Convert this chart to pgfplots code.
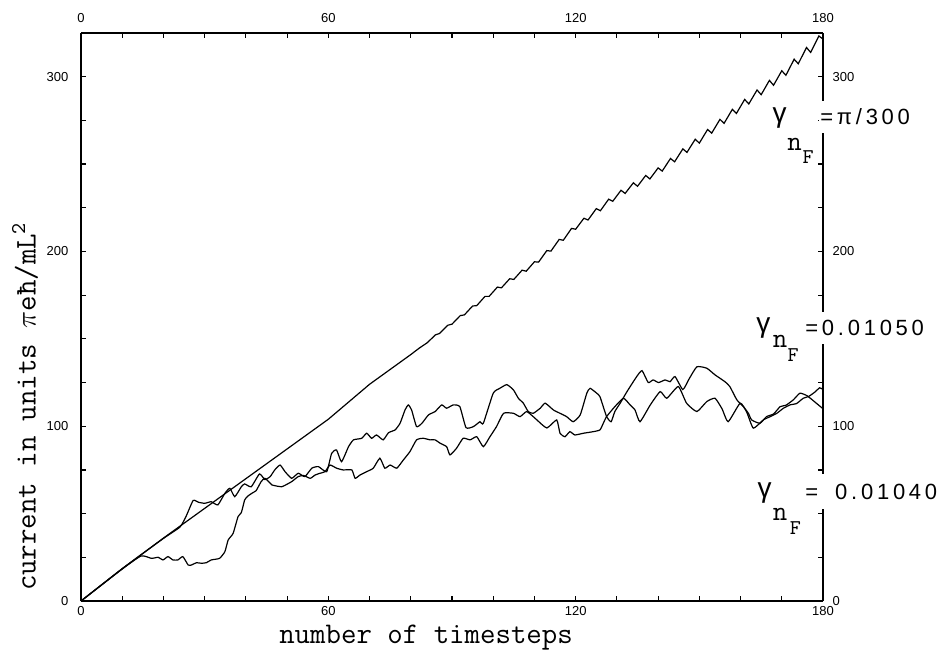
\documentclass[border=0pt]{standalone}
\usepackage{pgfplots}
\pgfplotsset{compat=1.18}
\usepackage{fontspec}
\setmainfont{Liberation Sans}
\newfontfamily\numfont{Liberation Sans}[LetterSpace=17]
\newfontfamily\tickfont{Liberation Sans}

\pgfplotstableread{
t v
0 0
10 18.5
20 36
30 53
40 70
50 87
60 104
70 124
80 141
82 144.6
84 147.8
86 152.3
87 153.1
89 157.8
90 158.4
92 163.3
93 163.7
95 168.8
96 169.0
98 174.3
99 174.3
101 179.6
102 179.2
104 184.4
105 184.0
107 189.3
108 188.7
110 194.1
111 193.9
113 200.5
114 200.2
116 206.9
117 206.4
119 213.2
120 212.7
122 219.0
123 218.0
125 224.5
126 223.3
128 229.9
129 228.7
131 235.0
132 233.2
134 239.3
135 237.3
137 243.5
138 241.5
140 247.8
141 246.0
143 253.2
144 251.3
146 258.7
147 256.7
149 264.2
150 262.0
152 269.8
153 267.7
155 275.6
156 273.3
158 281.3
159 279.0
161 287.0
162 284.4
164 292.4
165 289.7
167 297.9
168 295.1
170 303.4
171 300.8
173 310.0
174 307.4
176 316.7
177 313.9
179 323.3
180 321.5
}\curveS

\pgfplotstableread{
t v
0 0
10 18.5
20 35.8
24 42.3
25.5 48.5
27.2 57.5
28.5 56.5
30 55.9
31.6 56.8
33.2 55.0
34.9 61.6
36.1 64.5
37.3 59.7
38.9 65.4
39.7 67.0
41.3 65.4
43.3 72.7
44.6 69.5
45.9 71.2
47 75
48.3 77.8
49.5 74.0
51.1 70.2
52.7 73.1
54.3 71.2
56.0 76.0
57.6 76.9
59.6 74.0
60.8 84.5
62.0 86.4
63.2 79.7
64.9 88.3
66.1 92.2
68.1 93.1
69.3 96.0
70.5 93.1
71.7 95.0
73.3 92.2
74.6 96.3
76.2 97.9
77.4 101.7
78.6 109.3
79.4 112.2
80.2 109.3
81.4 99.8
82.7 101.7
84.3 106.5
85.9 108.4
87.5 112.2
88.7 110.3
90.3 112.2
91.9 111.2
93.4 99.2
95.2 99.8
96.8 102.6
97.6 101.7
100.0 118.9
101.6 121.7
103.3 123.8
104.9 120.8
106.1 116.0
107.3 113.2
108.5 108.4
109.7 107.4
111.4 110.3
112.6 113.2
114.6 109.3
116.2 107.4
117.8 105.5
119.4 102.6
121.1 106.5
122.7 118.9
123.5 121.7
125.1 118.9
125.9 116.9
127.5 105.5
128.6 102.6
129.5 108.4
130.8 113.2
132.5 120.0
134.8 128.4
136.1 131.8
137.6 125.0
138.8 126.5
140.1 125.0
141.7 126.5
142.9 125.5
144.1 128.4
146.0 121.0
147.5 127.0
149.4 134.0
151.8 133.2
153.8 129.4
156.2 125.5
157.4 122.7
159.1 115.1
160.7 111.2
161.9 107.4
162.7 103.6
164.7 101.7
166.3 105.5
168.0 107.0
169.6 111.2
171.0 112.0
172.8 115.1
174.4 118.9
176.1 117.5
177.7 114.5
180.0 110.0
}\curveU

\pgfplotstableread{
t v
0 0
10 18.3
14.6 25.8
17.1 24.4
18.7 25.0
19.9 23.5
21.1 25.4
22.3 23.5
23.5 23.5
24.7 25.4
26.0 20.6
26.8 20.6
28.0 21.9
29.2 21.6
30.4 21.9
31.6 23.5
33.6 24.4
34.9 28.2
35.7 34.9
36.9 38.7
38.1 48.3
38.9 50.6
39.7 57.8
40.5 60.1
41.7 62.0
42.5 63.2
43.7 68.3
44.6 70.2
45.9 67.4
46.3 66.4
48.7 65.4
51.1 68.3
52.7 71.2
54.0 71.8
55.6 70.2
56.8 72.1
58.0 73.1
59.2 74.0
60.4 77.8
62.0 76.0
63.6 75.0
65.7 75.0
66.5 70.2
67.7 72.1
69.3 74.0
70.9 76.0
72.5 81.7
73.7 76.0
75.0 77.8
76.6 76.0
78.2 80.7
79.8 85.5
81.4 92.2
83.0 93.1
84.7 92.2
85.9 92.2
87.1 90.3
88.7 88.3
89.5 83.6
91.1 87.4
92.7 93.1
94.4 92.2
96.0 94.0
97.6 88.3
99.2 94.0
100.8 99.8
102.5 107.4
104.9 107.4
106.5 105.5
108.1 108.4
109.7 105.5
110.6 103.6
113.0 99.0
115.4 103.6
116.2 96.0
117.4 94.0
118.6 96.9
119.8 95.0
121.9 96.0
124.3 96.9
125.9 97.9
126.7 101.7
127.5 105.5
129.5 111.2
131.6 116.0
133.2 112.2
134.4 109.3
135.6 102.6
138.1 112.2
140.5 119.8
142.1 116.0
144.9 122.7
146.9 113.2
149.4 108.4
151.8 114.1
153.8 116.0
155.5 110.0
157.0 102.6
159.9 113.2
161.5 108.0
163.1 98.9
165.5 103.6
167.2 105.5
168.8 107.4
170.4 110.3
172.0 112.2
173.6 113.0
175.2 116.0
176.5 117.0
178.0 119.5
179.2 122.0
180.0 121.0
}\curveL

\pgfplotsset{
  common/.style={
    at={(40.5pt,24.5pt)}, anchor=south west,
    scale only axis, width=371pt, height=284pt,
    xmin=0, xmax=180, ymin=0, ymax=325,
    xtick={0,60,120,180}, ytick={0,100,200,300},
    minor xtick={10,20,...,170}, minor ytick={25,50,...,325},
    tick align=inside, major tick length=2.6pt, minor tick length=2.6pt,
    tick style={line width=0.6pt, black},
    axis line style={line width=0.8pt, black},
    /pgf/number format/assume math mode=true,
    tick label style={font=\tickfont\fontsize{6.5}{7}\selectfont},
    clip=false,
  }
}

\begin{document}
\begin{tikzpicture}
\useasboundingbox (0,0) rectangle (474.5pt,325pt);
\begin{axis}[common,
  axis x line*=bottom, axis y line*=left,
  xticklabel style={yshift=-1.7pt, inner ysep=1pt},
  yticklabel style={xshift=-2.8pt},
]
\addplot[black, line width=0.6pt] table[x=t,y=v] {\curveS};
\addplot[black, line width=0.6pt, smooth, tension=0.3] table[x=t,y=v] {\curveU};
\addplot[black, line width=0.6pt, smooth, tension=0.3] table[x=t,y=v] {\curveL};
\node[anchor=base, inner sep=0pt, font=\ttfamily\fontsize{15}{17}\selectfont] at (rel axis cs:0.465,-0.0748) {number of timesteps};
\node[rotate=90, anchor=base, inner sep=0pt, font=\ttfamily\fontsize{15}{17}\selectfont] at (rel axis cs:-0.0613,0.3424) {current in units $\pi$eħ/mL\textsuperscript{2}};
\end{axis}
\begin{axis}[common,
  axis x line*=top, axis y line*=right,
  xticklabel style={yshift=1.8pt},
  yticklabel style={xshift=1.3pt},
]
% annotation 1
\node[font=\tickfont\fontsize{14}{15}\selectfont, inner sep=0pt] at (rel axis cs:0.9414,0.8512) {γ};
\node[font=\ttfamily\fontsize{14}{15}\selectfont, inner sep=0pt] at (rel axis cs:0.9616,0.8046) {n};
\node[font=\ttfamily\fontsize{10.5}{12}\selectfont, inner sep=0pt] at (rel axis cs:0.9798,0.7817) {F};
\node[anchor=west, fill=white, inner xsep=0.5pt, inner ysep=4pt, font=\numfont\fontsize{11}{12}\selectfont] at (rel axis cs:0.9946,0.8521) {=π/300};
% annotation 2
\node[font=\tickfont\fontsize{14}{15}\selectfont, inner sep=0pt] at (rel axis cs:0.9198,0.4815) {γ};
\node[font=\ttfamily\fontsize{14}{15}\selectfont, inner sep=0pt] at (rel axis cs:0.9420,0.4577) {n};
\node[font=\ttfamily\fontsize{10.5}{12}\selectfont, inner sep=0pt] at (rel axis cs:0.9596,0.4331) {F};
\node[anchor=west, fill=white, inner xsep=0.5pt, inner ysep=4pt, font=\numfont\fontsize{11}{12}\selectfont] at (rel axis cs:0.9744,0.4806) {=0.01050};
% annotation 3
\node[font=\tickfont\fontsize{14}{15}\selectfont, inner sep=0pt] at (rel axis cs:0.9212,0.1910) {γ};
\node[font=\ttfamily\fontsize{14}{15}\selectfont, inner sep=0pt] at (rel axis cs:0.9420,0.1532) {n};
\node[font=\ttfamily\fontsize{10.5}{12}\selectfont, inner sep=0pt] at (rel axis cs:0.9629,0.1276) {F};
\node[anchor=west, fill=white, inner xsep=0.5pt, inner ysep=5pt, font=\numfont\fontsize{11}{12}\selectfont] at (rel axis cs:0.9744,0.1928) {=\hspace{8.5pt}0.01040};
\end{axis}
\end{tikzpicture}
\end{document}
